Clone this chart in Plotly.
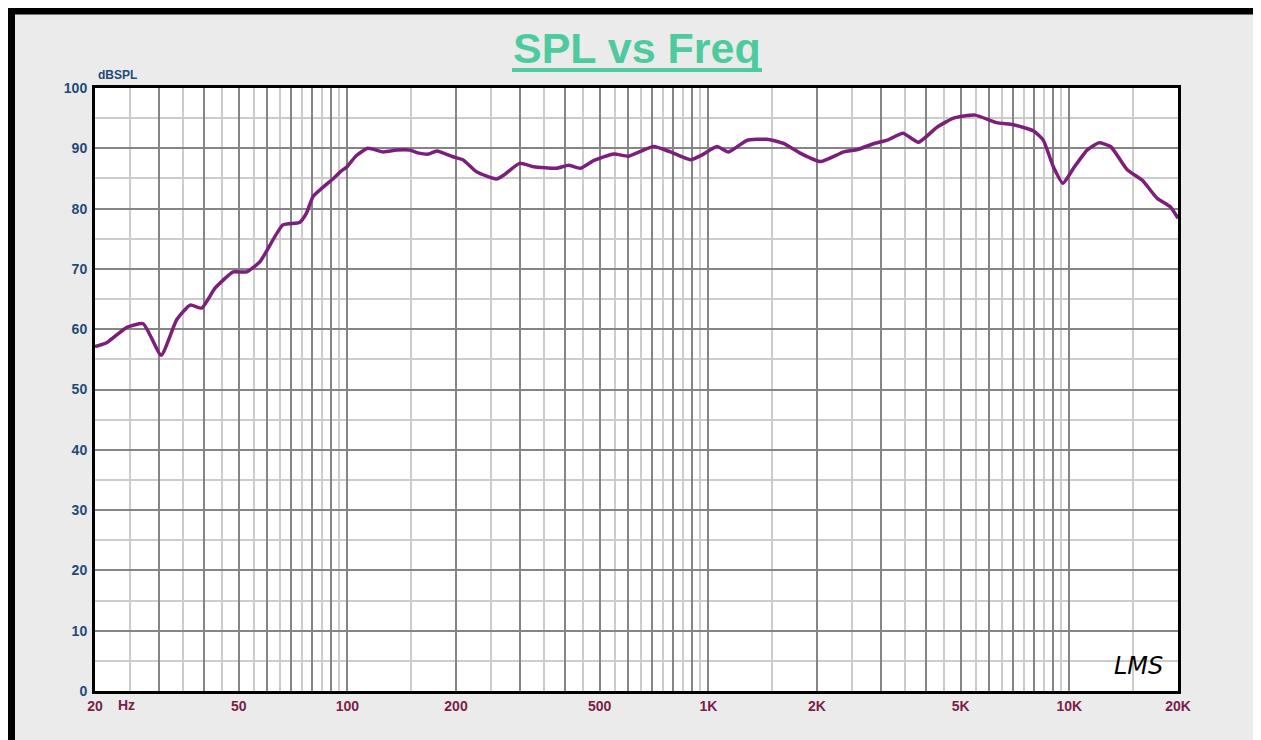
import plotly.graph_objects as go

# ---- data ----
freq_hz = [20, 21.6, 24.5, 27.2, 30.5, 33.7, 36.7, 39.5, 43, 48.3, 52.6, 57.3, 66.3, 73.7, 77, 80.4,
           91.5, 95.6, 100, 106, 114, 126, 137, 149, 158, 168, 177, 196, 209, 228, 259, 272, 300,
           328, 380, 410, 442, 481, 547, 600, 643, 706, 785, 892, 961, 1056, 1137, 1278, 1453,
           1615, 1797, 2044, 2373, 2590, 2883, 3150, 3460, 3820, 4300, 4780, 5480, 6290, 6995,
           7943, 8460, 9030, 9600, 10270, 11200, 12070, 13010, 14490, 15930, 17520, 19040, 20000]
spl_db = [57.1, 57.8, 60.3, 60.9, 55.7, 61.6, 64.0, 63.5, 66.8, 69.5, 69.5, 71.2, 77.3, 77.7, 79.2, 82.0,
          85.0, 86.1, 87.0, 88.8, 90.0, 89.4, 89.7, 89.7, 89.2, 89.05, 89.55, 88.6, 88.1, 86.1, 84.9, 85.6, 87.5,
          86.95, 86.7, 87.2, 86.7, 87.95, 89.05, 88.7, 89.4, 90.3, 89.4, 88.1, 88.9, 90.3, 89.4, 91.3, 91.5,
          90.8, 89.2, 87.8, 89.4, 89.8, 90.8, 91.4, 92.5, 91.0, 93.5, 95.0, 95.5, 94.25, 93.9,
          92.9, 91.4, 86.95, 84.2, 86.7, 89.7, 90.9, 90.3, 86.4, 84.7, 81.7, 80.3, 78.4]

x_label_vals = [20, 50, 100, 200, 500, 1000, 2000, 5000, 10000, 20000]
x_label_text = ["20", "50", "100", "200", "500", "1K", "2K", "5K", "10K", "20K"]
y_tick_vals = [0, 10, 20, 30, 40, 50, 60, 70, 80, 90, 100]

# major grid: 1..9 per decade, minor grid: half steps
decades = [10, 100, 1000, 10000]
major_vals = [m * d for d in decades for m in range(1, 10) if 20 <= m * d <= 20000]
minor_vals = [(m + 0.5) * d for d in decades for m in range(1, 10) if 20 < (m + 0.5) * d < 20000]
label_map = dict(zip(x_label_vals, x_label_text))
major_text = [label_map.get(v, "") for v in major_vals]

# the page body adds an 8px offset; work in page pixels and convert
OFF = 8
W, H = 1261, 740
L = 95 - OFF
T = 88 - OFF
R = W - (1178 - OFF)
B = H - (691 - OFF)
pw, ph = W - L - R, H - T - B


def px(x):
    return (x - OFF - L) / pw


def py(y):
    return (H - B - (y - OFF)) / ph


fig = go.Figure()
fig.add_trace(go.Scatter(
    x=freq_hz, y=spl_db, mode="lines",
    line=dict(color="#7b1f7b", width=3.5, shape="spline", smoothing=0.5),
    hoverinfo="x+y", showlegend=False,
))

navy = "#1f4a78"
maroon = "#7a1e4a"

fig.update_layout(
    width=W, height=H,
    margin=dict(l=L, r=R, t=T, b=B),
    paper_bgcolor="#ebebeb",
    plot_bgcolor="white",
    font=dict(family="Arial, Liberation Sans, sans-serif"),
    xaxis=dict(
        type="log", range=[1.30103, 4.30103],
        tickmode="array", tickvals=major_vals, ticktext=major_text,
        tickfont=dict(size=14, color=maroon, weight="bold"),
        ticks="", showgrid=True, gridcolor="#858585", gridwidth=2,
        minor=dict(tickmode="array", tickvals=minor_vals, showgrid=True,
                   gridcolor="#cccccc", gridwidth=1.5, ticks=""),
        showline=True, linecolor="black", linewidth=3, mirror=True,
        zeroline=False,
    ),
    yaxis=dict(
        range=[0, 100], tickmode="array", tickvals=y_tick_vals,
        tickfont=dict(size=14, color=navy, weight="bold"),
        ticks="", ticklabelstandoff=2,
        showgrid=True, gridcolor="#858585", gridwidth=2,
        minor=dict(dtick=5, showgrid=True, gridcolor="#cccccc", gridwidth=1.5, ticks=""),
        showline=True, linecolor="black", linewidth=3, mirror=True,
        zeroline=False,
    ),
)

# title
fig.add_annotation(
    text="SPL vs Freq", xref="paper", yref="paper", x=px(637), y=py(48),
    xanchor="center", yanchor="middle", showarrow=False,
    font=dict(size=43, color="#4ecb9e", family="Arial, Liberation Sans", weight="bold"),
)
fig.add_shape(type="line", xref="paper", yref="paper",
              x0=px(512), x1=px(762), y0=py(70), y1=py(70),
              line=dict(color="#4ecb9e", width=4))

# axis captions
fig.add_annotation(
    text="dBSPL", xref="paper", yref="paper", x=px(96), y=py(84),
    xanchor="left", yanchor="bottom", showarrow=False,
    font=dict(size=12, color=navy, weight="bold"),
)
fig.add_annotation(
    text="Hz", xref="paper", yref="paper", x=px(126), y=py(705),
    xanchor="center", yanchor="middle", showarrow=False,
    font=dict(size=14, color=maroon, weight="bold"),
)
# LMS logo
fig.add_annotation(
    text="<i>LMS</i>", xref="paper", yref="paper", x=px(1138), y=py(666),
    xanchor="center", yanchor="middle", showarrow=False,
    font=dict(size=24, color="black", family="DejaVu Sans"),
)

# outer frame
fig.add_shape(type="rect", xref="paper", yref="paper",
              x0=px(11.5), x1=px(1258.5), y0=py(752), y1=py(11),
              line=dict(color="black", width=7), layer="below")

fig.write_html("out.html")
